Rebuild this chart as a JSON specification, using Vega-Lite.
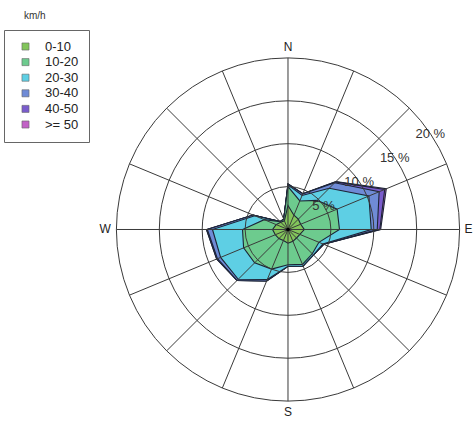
{
  "$schema": "https://vega.github.io/schema/vega-lite/v6.json",
  "width": 473,
  "height": 402,
  "autosize": {"type": "none"},
  "padding": {"left": 0, "top": 22, "right": 0, "bottom": 0},
  "background": "white",
  "title": {"text": "km/h", "anchor": "start", "dx": 24, "offset": 1, "fontSize": 10, "fontWeight": "normal", "font": "Liberation Sans", "color": "#333333"},
  "config": {"view": {"stroke": null}, "font": "Liberation Sans"},
  "datasets": {
    "rose": [
      {"cls": ">= 50", "dir": "N", "angle": 0, "cum_pct": 5.3},
      {"cls": ">= 50", "dir": "NNE", "angle": 22.5, "cum_pct": 4.5},
      {"cls": ">= 50", "dir": "NE", "angle": 45, "cum_pct": 7.9},
      {"cls": ">= 50", "dir": "ENE", "angle": 67.5, "cum_pct": 12.4},
      {"cls": ">= 50", "dir": "E", "angle": 90, "cum_pct": 10.8},
      {"cls": ">= 50", "dir": "ESE", "angle": 112.5, "cum_pct": 4.5},
      {"cls": ">= 50", "dir": "SE", "angle": 135, "cum_pct": 4.2},
      {"cls": ">= 50", "dir": "SSE", "angle": 157.5, "cum_pct": 4.6},
      {"cls": ">= 50", "dir": "S", "angle": 180, "cum_pct": 4.3},
      {"cls": ">= 50", "dir": "SSW", "angle": 202.5, "cum_pct": 6.5},
      {"cls": ">= 50", "dir": "SW", "angle": 225, "cum_pct": 8.4},
      {"cls": ">= 50", "dir": "WSW", "angle": 247.5, "cum_pct": 9.0},
      {"cls": ">= 50", "dir": "W", "angle": 270, "cum_pct": 9.5},
      {"cls": ">= 50", "dir": "WNW", "angle": 292.5, "cum_pct": 4.4},
      {"cls": ">= 50", "dir": "NW", "angle": 315, "cum_pct": 1.3},
      {"cls": ">= 50", "dir": "NNW", "angle": 337.5, "cum_pct": 1.3},

      {"cls": "40-50", "dir": "N", "angle": 0, "cum_pct": 5.3},
      {"cls": "40-50", "dir": "NNE", "angle": 22.5, "cum_pct": 4.5},
      {"cls": "40-50", "dir": "NE", "angle": 45, "cum_pct": 7.85},
      {"cls": "40-50", "dir": "ENE", "angle": 67.5, "cum_pct": 12.2},
      {"cls": "40-50", "dir": "E", "angle": 90, "cum_pct": 10.7},
      {"cls": "40-50", "dir": "ESE", "angle": 112.5, "cum_pct": 4.5},
      {"cls": "40-50", "dir": "SE", "angle": 135, "cum_pct": 4.2},
      {"cls": "40-50", "dir": "SSE", "angle": 157.5, "cum_pct": 4.6},
      {"cls": "40-50", "dir": "S", "angle": 180, "cum_pct": 4.3},
      {"cls": "40-50", "dir": "SSW", "angle": 202.5, "cum_pct": 6.5},
      {"cls": "40-50", "dir": "SW", "angle": 225, "cum_pct": 8.4},
      {"cls": "40-50", "dir": "WSW", "angle": 247.5, "cum_pct": 9.0},
      {"cls": "40-50", "dir": "W", "angle": 270, "cum_pct": 9.5},
      {"cls": "40-50", "dir": "WNW", "angle": 292.5, "cum_pct": 4.4},
      {"cls": "40-50", "dir": "NW", "angle": 315, "cum_pct": 1.3},
      {"cls": "40-50", "dir": "NNW", "angle": 337.5, "cum_pct": 1.3},

      {"cls": "30-40", "dir": "N", "angle": 0, "cum_pct": 5.3},
      {"cls": "30-40", "dir": "NNE", "angle": 22.5, "cum_pct": 4.5},
      {"cls": "30-40", "dir": "NE", "angle": 45, "cum_pct": 7.7},
      {"cls": "30-40", "dir": "ENE", "angle": 67.5, "cum_pct": 11.5},
      {"cls": "30-40", "dir": "E", "angle": 90, "cum_pct": 10.4},
      {"cls": "30-40", "dir": "ESE", "angle": 112.5, "cum_pct": 4.5},
      {"cls": "30-40", "dir": "SE", "angle": 135, "cum_pct": 4.2},
      {"cls": "30-40", "dir": "SSE", "angle": 157.5, "cum_pct": 4.6},
      {"cls": "30-40", "dir": "S", "angle": 180, "cum_pct": 4.3},
      {"cls": "30-40", "dir": "SSW", "angle": 202.5, "cum_pct": 6.5},
      {"cls": "30-40", "dir": "SW", "angle": 225, "cum_pct": 8.4},
      {"cls": "30-40", "dir": "WSW", "angle": 247.5, "cum_pct": 8.9},
      {"cls": "30-40", "dir": "W", "angle": 270, "cum_pct": 9.4},
      {"cls": "30-40", "dir": "WNW", "angle": 292.5, "cum_pct": 4.4},
      {"cls": "30-40", "dir": "NW", "angle": 315, "cum_pct": 1.3},
      {"cls": "30-40", "dir": "NNW", "angle": 337.5, "cum_pct": 1.3},

      {"cls": "20-30", "dir": "N", "angle": 0, "cum_pct": 5.2},
      {"cls": "20-30", "dir": "NNE", "angle": 22.5, "cum_pct": 4.3},
      {"cls": "20-30", "dir": "NE", "angle": 45, "cum_pct": 6.8},
      {"cls": "20-30", "dir": "ENE", "angle": 67.5, "cum_pct": 10.2},
      {"cls": "20-30", "dir": "E", "angle": 90, "cum_pct": 9.7},
      {"cls": "20-30", "dir": "ESE", "angle": 112.5, "cum_pct": 4.4},
      {"cls": "20-30", "dir": "SE", "angle": 135, "cum_pct": 4.2},
      {"cls": "20-30", "dir": "SSE", "angle": 157.5, "cum_pct": 4.6},
      {"cls": "20-30", "dir": "S", "angle": 180, "cum_pct": 4.3},
      {"cls": "20-30", "dir": "SSW", "angle": 202.5, "cum_pct": 6.3},
      {"cls": "20-30", "dir": "SW", "angle": 225, "cum_pct": 8.2},
      {"cls": "20-30", "dir": "WSW", "angle": 247.5, "cum_pct": 8.5},
      {"cls": "20-30", "dir": "W", "angle": 270, "cum_pct": 8.8},
      {"cls": "20-30", "dir": "WNW", "angle": 292.5, "cum_pct": 4.2},
      {"cls": "20-30", "dir": "NW", "angle": 315, "cum_pct": 1.3},
      {"cls": "20-30", "dir": "NNW", "angle": 337.5, "cum_pct": 1.3},

      {"cls": "10-20", "dir": "N", "angle": 0, "cum_pct": 5.0},
      {"cls": "10-20", "dir": "NNE", "angle": 22.5, "cum_pct": 3.6},
      {"cls": "10-20", "dir": "NE", "angle": 45, "cum_pct": 4.8},
      {"cls": "10-20", "dir": "ENE", "angle": 67.5, "cum_pct": 6.2},
      {"cls": "10-20", "dir": "E", "angle": 90, "cum_pct": 6.0},
      {"cls": "10-20", "dir": "ESE", "angle": 112.5, "cum_pct": 3.9},
      {"cls": "10-20", "dir": "SE", "angle": 135, "cum_pct": 4.0},
      {"cls": "10-20", "dir": "SSE", "angle": 157.5, "cum_pct": 4.4},
      {"cls": "10-20", "dir": "S", "angle": 180, "cum_pct": 4.1},
      {"cls": "10-20", "dir": "SSW", "angle": 202.5, "cum_pct": 5.0},
      {"cls": "10-20", "dir": "SW", "angle": 225, "cum_pct": 5.5},
      {"cls": "10-20", "dir": "WSW", "angle": 247.5, "cum_pct": 5.6},
      {"cls": "10-20", "dir": "W", "angle": 270, "cum_pct": 5.3},
      {"cls": "10-20", "dir": "WNW", "angle": 292.5, "cum_pct": 3.0},
      {"cls": "10-20", "dir": "NW", "angle": 315, "cum_pct": 1.3},
      {"cls": "10-20", "dir": "NNW", "angle": 337.5, "cum_pct": 1.3},

      {"cls": "0-10", "dir": "N", "angle": 0, "cum_pct": 2.8},
      {"cls": "0-10", "dir": "NNE", "angle": 22.5, "cum_pct": 1.8},
      {"cls": "0-10", "dir": "NE", "angle": 45, "cum_pct": 1.7},
      {"cls": "0-10", "dir": "ENE", "angle": 67.5, "cum_pct": 1.6},
      {"cls": "0-10", "dir": "E", "angle": 90, "cum_pct": 1.9},
      {"cls": "0-10", "dir": "ESE", "angle": 112.5, "cum_pct": 1.5},
      {"cls": "0-10", "dir": "SE", "angle": 135, "cum_pct": 1.4},
      {"cls": "0-10", "dir": "SSE", "angle": 157.5, "cum_pct": 1.5},
      {"cls": "0-10", "dir": "S", "angle": 180, "cum_pct": 1.6},
      {"cls": "0-10", "dir": "SSW", "angle": 202.5, "cum_pct": 1.4},
      {"cls": "0-10", "dir": "SW", "angle": 225, "cum_pct": 1.5},
      {"cls": "0-10", "dir": "WSW", "angle": 247.5, "cum_pct": 1.6},
      {"cls": "0-10", "dir": "W", "angle": 270, "cum_pct": 1.8},
      {"cls": "0-10", "dir": "WNW", "angle": 292.5, "cum_pct": 1.5},
      {"cls": "0-10", "dir": "NW", "angle": 315, "cum_pct": 1.2},
      {"cls": "0-10", "dir": "NNW", "angle": 337.5, "cum_pct": 1.1}
    ],
    "spokes": [
      {"angle": 0, "len": 20}, {"angle": 22.5, "len": 20}, {"angle": 45, "len": 20}, {"angle": 67.5, "len": 20},
      {"angle": 90, "len": 20}, {"angle": 112.5, "len": 20}, {"angle": 135, "len": 20}, {"angle": 157.5, "len": 20},
      {"angle": 180, "len": 20}, {"angle": 202.5, "len": 20}, {"angle": 225, "len": 20}, {"angle": 247.5, "len": 20},
      {"angle": 270, "len": 20}, {"angle": 292.5, "len": 20}, {"angle": 315, "len": 20}, {"angle": 337.5, "len": 20}
    ],
    "rings": [{"r": 5, "label": "5 %"}, {"r": 10, "label": "10 %"}, {"r": 15, "label": "15 %"}, {"r": 20, "label": "20 %"}],
    "compass": [
      {"label": "N", "angle": 0, "r": 21.3},
      {"label": "E", "angle": 90, "r": 21.05},
      {"label": "S", "angle": 180, "r": 21.3},
      {"label": "W", "angle": 270, "r": 21.3}
    ]
  },
  "layer": [
    {
      "data": {"name": "rose"},
      "transform": [
        {"calculate": "datum.cum_pct * sin(datum.angle * PI / 180)", "as": "px"},
        {"calculate": "datum.cum_pct * cos(datum.angle * PI / 180)", "as": "py"}
      ],
      "mark": {"type": "line", "interpolate": "linear-closed", "stroke": "#1c2436", "strokeWidth": 1.1, "strokeJoin": "miter"},
      "encoding": {
        "x": {"field": "px", "type": "quantitative", "scale": {"domain": [-33.566, 21.562], "nice": false, "zero": false}, "axis": null},
        "y": {"field": "py", "type": "quantitative", "scale": {"domain": [-22.669, 24.184], "nice": false, "zero": false}, "axis": null},
        "order": {"field": "angle", "type": "quantitative"},
        "detail": {"field": "cls", "type": "nominal"},
        "fill": {
          "field": "cls", "type": "nominal",
          "scale": {"domain": ["0-10", "10-20", "20-30", "30-40", "40-50", ">= 50"], "range": ["#82c55b", "#6dcb8e", "#5ecfe4", "#6f8bd6", "#7a5ccc", "#c262c6"]},
          "legend": {
            "title": null, "orient": "none", "legendX": 4, "legendY": 8,
            "symbolType": "square", "symbolSize": 50, "symbolStrokeWidth": 0.6, "symbolStrokeColor": "#666666",
            "labelFontSize": 13, "labelColor": "#222222", "labelFont": "Liberation Sans", "labelOffset": 13,
            "symbolOffset": 5, "rowPadding": 1.6, "padding": 10,
            "strokeColor": "#666666", "fillColor": "white"
          }
        }
      }
    },
    {
      "data": {"name": "rings"},
      "mark": {"type": "point", "shape": "circle", "filled": false, "stroke": "#3a3a3a", "strokeWidth": 1, "opacity": 1},
      "encoding": {
        "x": {"datum": 0, "type": "quantitative"},
        "y": {"datum": 0, "type": "quantitative"},
        "size": {"field": "r", "type": "quantitative", "scale": {"type": "pow", "exponent": 2, "domain": [0, 20], "range": [0, 117787], "zero": true}, "legend": null}
      }
    },
    {
      "data": {"name": "spokes"},
      "transform": [
        {"calculate": "datum.len * sin(datum.angle * PI / 180)", "as": "sx"},
        {"calculate": "datum.len * cos(datum.angle * PI / 180)", "as": "sy"}
      ],
      "mark": {"type": "rule", "stroke": "#3a3a3a", "strokeWidth": 1},
      "encoding": {
        "x": {"field": "sx", "type": "quantitative"},
        "y": {"field": "sy", "type": "quantitative"},
        "x2": {"datum": 0},
        "y2": {"datum": 0}
      }
    },
    {
      "data": {"values": [{"center": "origin"}]},
      "mark": {"type": "point", "shape": "circle", "filled": true, "color": "#000000", "size": 14, "opacity": 1},
      "encoding": {
        "x": {"datum": 0, "type": "quantitative"},
        "y": {"datum": 0, "type": "quantitative"}
      }
    },
    {
      "data": {"name": "rings"},
      "transform": [
        {"calculate": "datum.r * sin(56 * PI / 180)", "as": "lx"},
        {"calculate": "datum.r * cos(56 * PI / 180)", "as": "ly"}
      ],
      "mark": {"type": "text", "fontSize": 13, "color": "#333333", "font": "Liberation Sans", "align": "center", "baseline": "middle"},
      "encoding": {
        "x": {"field": "lx", "type": "quantitative"},
        "y": {"field": "ly", "type": "quantitative"},
        "text": {"field": "label"}
      }
    },
    {
      "data": {"name": "compass"},
      "transform": [
        {"calculate": "datum.r * sin(datum.angle * PI / 180)", "as": "cx"},
        {"calculate": "datum.r * cos(datum.angle * PI / 180)", "as": "cy"}
      ],
      "mark": {"type": "text", "fontSize": 12, "color": "#222222", "font": "Liberation Sans", "align": "center", "baseline": "middle"},
      "encoding": {
        "x": {"field": "cx", "type": "quantitative"},
        "y": {"field": "cy", "type": "quantitative"},
        "text": {"field": "label"}
      }
    }
  ]
}
